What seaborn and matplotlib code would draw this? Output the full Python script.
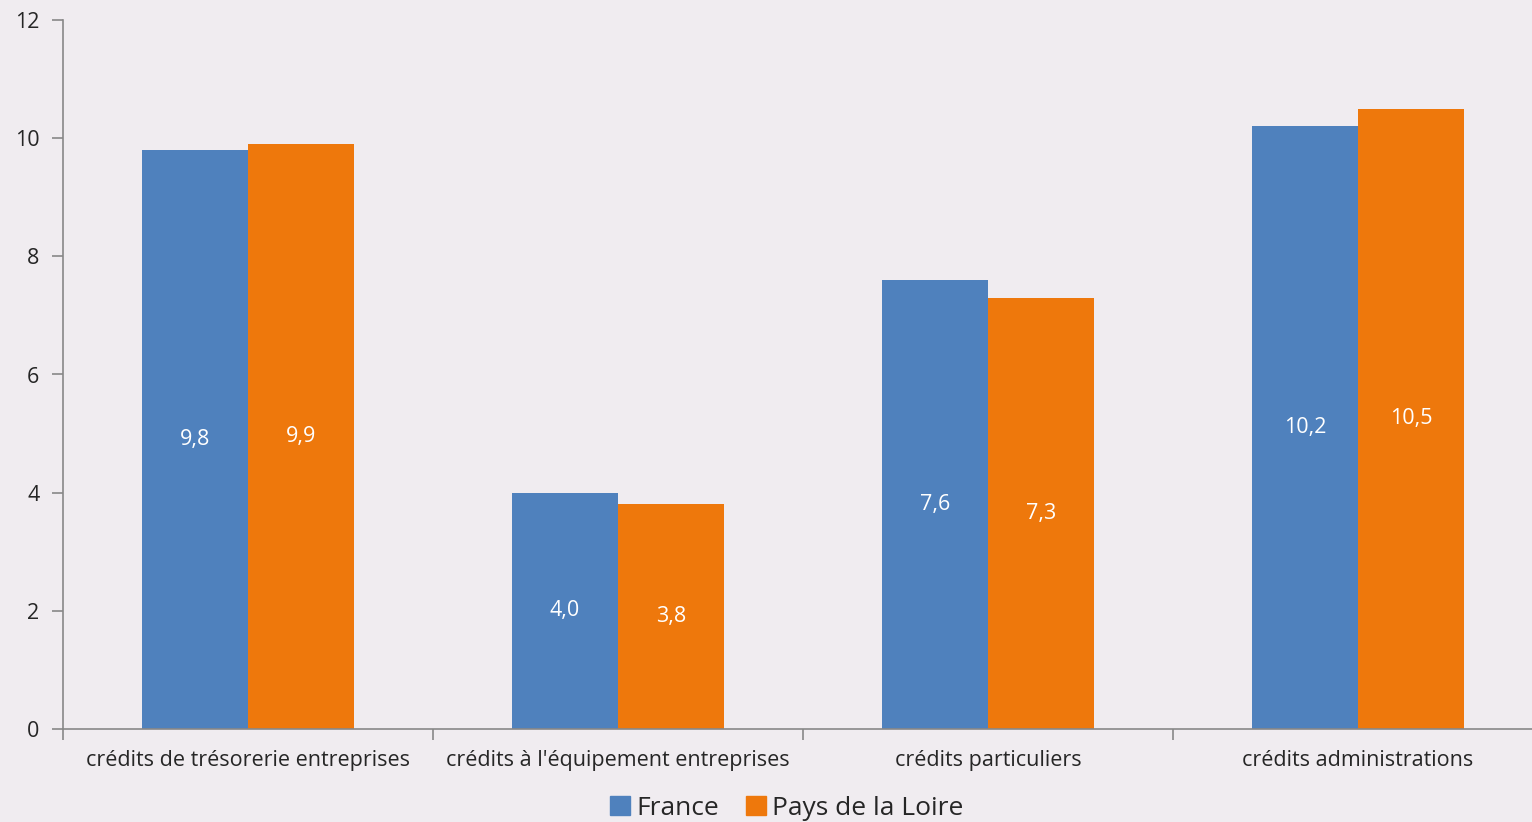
import pandas as pd
import numpy as np
import matplotlib.pyplot as plt
import seaborn as sns

categories = ["crédits de trésorerie entreprises", "crédits à l'équipement entreprises",
              "crédits particuliers", "crédits administrations"]
series = ["France", "Pays de la Loire"]
france = [9.8, 4.0, 7.6, 10.2]
pays_loire = [9.9, 3.8, 7.3, 10.5]
yticks = [0, 2, 4, 6, 8, 10, 12]

colors = ["#4F81BD", "#EE780C"]
bg = "#F0ECF0"

df = pd.DataFrame({
    "categorie": categories * 2,
    "zone": [series[0]] * 4 + [series[1]] * 4,
    "valeur": france + pays_loire,
})

sns.set_style("white")
plt.rcParams['font.family'] = ['Open Sans', 'DejaVu Sans']

fig = plt.figure(figsize=(15.32, 8.22), dpi=100, facecolor=bg)
# l'axe dépasse un peu à droite comme dans l'original
ax = fig.add_axes([63 / 1532, (822 - 729) / 822, (1543 - 63) / 1532, (729 - 20) / 822])
ax.set_facecolor(bg)

sns.barplot(data=df, x="categorie", y="valeur", hue="zone", palette=colors,
            width=0.573, ax=ax, edgecolor="none", saturation=1)

for cont in ax.containers:
    labels = [f"{v:.1f}".replace(".", ",") for v in cont.datavalues]
    ax.bar_label(cont, labels=labels, label_type="center", color="white", fontsize=15.5)

ax.set_xlim(-0.5, 3.5)
ax.set_ylim(0, 12)
ax.set_yticks(yticks)
ax.set_yticklabels([str(t) for t in yticks], fontsize=15.5)

# ticks x entre les catégories
ax.set_xticks(np.arange(len(categories)))
ax.set_xticklabels(categories, fontsize=15.5)
ax.tick_params(axis="x", length=0, pad=15)
ax.set_xticks(np.arange(len(categories) + 1) - 0.5, minor=True)
ax.tick_params(axis="x", which="minor", length=8, width=1.2, color="#888888", direction="out", bottom=True)
ax.tick_params(axis="y", length=8, width=1.2, color="#888888", direction="out", left=True, pad=9)

for s in ["top", "right"]:
    ax.spines[s].set_visible(False)
for s in ["left", "bottom"]:
    ax.spines[s].set_color("#888888")
    ax.spines[s].set_linewidth(1.2)

ax.set_xlabel("")
ax.set_ylabel("")

ax.legend_.remove()
handles = [plt.Rectangle((0, 0), 1, 1, color=c) for c in colors]
fig.legend(handles, series, loc="center", bbox_to_anchor=(787 / 1532, 1 - 808 / 822), ncol=2,
           frameon=False, fontsize=19, handlelength=0.75, handleheight=0.75,
           handletextpad=0.25, columnspacing=1.0)

fig.savefig("out.png", dpi=100, facecolor=bg)
